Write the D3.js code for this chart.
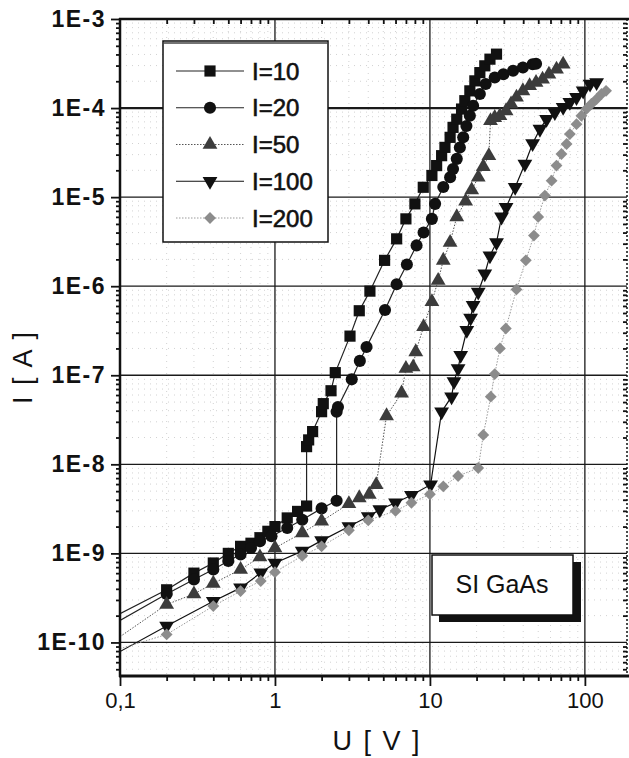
<!DOCTYPE html>
<html>
<head>
<meta charset="utf-8">
<script src="https://cdn.jsdelivr.net/npm/d3@7"></script>
<style>
  body { margin: 0; background: #fff; }
  svg { display: block; font-family: "Liberation Sans", Arial, sans-serif; }
</style>
</head>
<body>
<svg id="chart" width="629" height="758"></svg>
<script>
// measured curves, U in volts, I in amperes
const u10 = [0.2, 0.3, 0.4, 0.5, 0.6, 0.7, 0.8, 0.9, 1.0, 1.2, 1.4, 1.6,
  1.6, 1.65, 1.75, 2.0, 2.05, 2.3, 2.45, 3.05, 3.5, 4.1, 5.1, 6.1, 7.0, 8.0, 9.06, 10.3,
  11.05, 11.9, 12.5, 13.5, 14.1, 14.9, 16.0, 16.8, 18.1, 19.5, 21, 22.6, 24.4, 26.9];
const i10 = [3.9e-10, 6.0e-10, 7.8e-10, 1.0e-9, 1.2e-9, 1.3e-9, 1.5e-9, 1.77e-9, 2.0e-9, 2.5e-9, 2.96e-9, 3.4e-9,
  1.58e-8, 1.88e-8, 2.33e-8, 3.9e-8, 4.8e-8, 6.7e-8, 1.07e-7, 2.75e-7, 5.3e-7, 8.8e-7, 1.95e-6, 3.4e-6, 5.7e-6, 8.4e-6, 1.29e-5, 1.75e-5,
  2.26e-5, 2.92e-5, 3.62e-5, 4.69e-5, 6.07e-5, 7.5e-5, 9.75e-5, 1.21e-4, 1.56e-4, 2.02e-4, 2.5e-4, 2.98e-4, 3.54e-4, 4.03e-4];

const u20 = [0.2, 0.3, 0.4, 0.5, 0.6, 0.7, 0.8, 0.95, 1.2, 1.5, 2.0, 2.5,
  2.5, 2.55, 3.13, 3.53, 3.9, 5.13, 6.1, 7.1, 8.2, 9.1, 10.3, 10.8, 12.2, 13.5, 14.1, 14.9, 15.6, 16.4,
  17.2, 18.1, 19, 21, 22.9, 26.2, 29.8, 34.4, 39.8, 46, 48.4];
const i20 = [3.5e-10, 5.1e-10, 6.6e-10, 8.2e-10, 9.7e-10, 1.15e-9, 1.37e-9, 1.56e-9, 1.93e-9, 2.39e-9, 3.2e-9, 3.9e-9,
  3.9e-8, 4.4e-8, 9.0e-8, 1.45e-7, 2.08e-7, 5.4e-7, 1.05e-6, 1.75e-6, 2.87e-6, 4.0e-6, 5.7e-6, 8.4e-6, 1.3e-5, 1.67e-5, 2.07e-5, 2.69e-5, 3.6e-5, 4.7e-5,
  6.3e-5, 8.2e-5, 1.06e-4, 1.44e-4, 1.86e-4, 2.2e-4, 2.4e-4, 2.62e-4, 2.85e-4, 3.1e-4, 3.15e-4];

const u50 = [0.2, 0.3, 0.4, 0.6, 0.8, 1.0, 1.5, 2.0, 3.0, 3.5, 4.06, 4.5,
  5.25, 6.56, 7.0, 7.8, 8.1, 9.1, 10.3, 11.3, 12.2, 13.5, 14.9, 17, 18.6, 20.5, 22.1, 24.0,
  24.6, 26.2, 28.3, 31, 33.4, 36.2, 39.8, 44, 48.4, 53.3, 58.6, 65.6, 72.4];
const i50 = [2.67e-10, 3.5e-10, 4.6e-10, 6.6e-10, 9.1e-10, 1.15e-9, 1.7e-9, 2.3e-9, 3.6e-9, 4.2e-9, 4.6e-9, 5.9e-9,
  3.5e-8, 6.3e-8, 1.19e-7, 1.24e-7, 1.83e-7, 3.5e-7, 6.7e-7, 1.16e-6, 1.95e-6, 3.1e-6, 6.0e-6, 9.0e-6, 1.2e-5, 1.67e-5, 2.2e-5, 2.92e-5,
  7.2e-5, 7.8e-5, 8.2e-5, 9.3e-5, 1.11e-4, 1.32e-4, 1.56e-4, 1.78e-4, 1.94e-4, 2.11e-4, 2.4e-4, 2.73e-4, 3.1e-4];

const u100 = [0.2, 0.4, 0.6, 0.81, 1.0, 1.5, 2.0, 3.0, 4.0, 4.75, 6.0, 7.6, 10.1,
  11.9, 13.8, 14.3, 15.2, 15.8, 17.3, 18.3, 19, 20.5, 22.6, 24.4, 26.9, 29, 31, 35.5, 41, 46,
  51.3, 56.6, 64, 72.4, 80, 88.3, 97.5, 108, 119];
const i100 = [1.53e-10, 2.9e-10, 4.1e-10, 6.05e-10, 7.8e-10, 1.06e-9, 1.39e-9, 2.0e-9, 2.6e-9, 3.1e-9, 3.7e-9, 4.5e-9, 5.9e-9,
  3.9e-8, 5.75e-8, 8.5e-8, 1.19e-7, 1.68e-7, 3.2e-7, 4.4e-7, 6.1e-7, 8.6e-7, 1.38e-6, 2.2e-6, 3.1e-6, 6.0e-6, 7.7e-6, 1.29e-5, 2.36e-5, 4.0e-5,
  5.8e-5, 7.5e-5, 8.9e-5, 1.02e-4, 1.16e-4, 1.32e-4, 1.56e-4, 1.86e-4, 1.94e-4];

const u200 = [0.2, 0.4, 0.6, 0.81, 1.0, 1.5, 2.0, 3.0, 4.0, 6.0, 7.6, 10.0, 12.2, 15.2, 20.5,
  22.1, 24.7, 26.2, 28.3, 30.9, 36.2, 41.6, 46.9, 50, 55.2, 61, 65.6, 70.6, 76.2, 80,
  88.3, 95, 102.5, 110, 119, 128, 137];
const i200 = [1.23e-10, 2.56e-10, 3.77e-10, 4.9e-10, 6.15e-10, 9.4e-10, 1.2e-9, 1.82e-9, 2.35e-9, 3.0e-9, 3.7e-9, 4.6e-9, 5.65e-9, 7.4e-9, 9.1e-9,
  2.14e-8, 5.75e-8, 1.03e-7, 2.0e-7, 3.35e-7, 9.2e-7, 1.95e-6, 3.7e-6, 6.0e-6, 1.04e-5, 1.53e-5, 2.26e-5, 3.05e-5, 3.95e-5, 5.1e-5,
  6.6e-5, 8.2e-5, 9.8e-5, 1.11e-4, 1.26e-4, 1.44e-4, 1.56e-4];

// the drawn lines run on to the left axis at U = 0,1 (no marker there)
const startU = 0.1;
const startI = [2.1e-10, 1.77e-10, 1.16e-10, 7.9e-11, 8.5e-11];

const seriesNames = ["l=10", "l=20", "l=50", "l=100", "l=200"];
const legendLabels = ["I=10", "I=20", "I=50", "I=100", "I=200"];

const xTickValues = [0.1, 1, 10, 100];
const xTickLabels = ["0,1", "1", "10", "100"];
const yTickValues = [1e-3, 1e-4, 1e-5, 1e-6, 1e-7, 1e-8, 1e-9, 1e-10];
const yTickLabels = ["1E-3", "1E-4", "1E-5", "1E-6", "1E-7", "1E-8", "1E-9", "1E-10"];

const styles = [
  { symbol: d3.symbolSquare, size: 125, rotate: 0, fill: "#111", line: "#222", width: 1.2, dash: null },
  { symbol: d3.symbolCircle, size: 115, rotate: 0, fill: "#111", line: "#222", width: 1.2, dash: null },
  { symbol: d3.symbolTriangle, size: 95, rotate: 0, fill: "#3c3c3c", line: "#555", width: 1, dash: "1.5,1.5" },
  { symbol: d3.symbolTriangle, size: 95, rotate: 180, fill: "#111", line: "#111", width: 1.2, dash: null },
  { symbol: d3.symbolSquare, size: 70, rotate: 45, fill: "#8c8c8c", line: "#9a9a9a", width: 1, dash: "1.5,1.5" },
];

const uValues = [u10, u20, u50, u100, u200];
const iValues = [i10, i20, i50, i100, i200];
const series = seriesNames.map((name, k) => ({
  name,
  points: uValues[k].map((u, j) => ({ u, i: iValues[k][j] })),
  start: { u: startU, i: startI[k] },
  style: styles[k],
}));

const svg = d3.select("#chart");
const plotLeft = 120, plotRight = 627, plotTop = 19, plotBottom = 676;

const x = d3.scaleLog().domain([0.1, 187]).range([plotLeft, plotRight]);
const y = d3.scaleLog().domain([4.2e-11, 1e-3]).range([plotBottom, plotTop]);

function minorValues(decades, lo, hi) {
  const out = [];
  decades.forEach((d) => {
    for (let k = 2; k <= 9; k++) {
      const v = k * d;
      if (v > lo && v < hi) out.push(v);
    }
  });
  return out;
}
const xMinor = minorValues([0.1, 1, 10, 100], 0.1, 187);
const yMinor = minorValues([1e-11, 1e-10, 1e-9, 1e-8, 1e-7, 1e-6, 1e-5, 1e-4], 4.2e-11, 1e-3);

svg.append("defs").append("clipPath").attr("id", "plotClip")
  .append("rect").attr("x", plotLeft).attr("y", plotTop)
  .attr("width", plotRight - plotLeft).attr("height", plotBottom - plotTop);

// minor dotted grid
const grid = svg.append("g");
grid.append("g").selectAll("line").data(xMinor).join("line")
  .attr("x1", (d) => x(d)).attr("x2", (d) => x(d)).attr("y1", plotTop).attr("y2", plotBottom)
  .attr("stroke", "#d2d2d2").attr("stroke-width", 1).attr("stroke-dasharray", "1,5");
grid.append("g").selectAll("line").data(yMinor).join("line")
  .attr("y1", (d) => y(d)).attr("y2", (d) => y(d)).attr("x1", plotLeft).attr("x2", plotRight)
  .attr("stroke", "#d2d2d2").attr("stroke-width", 1).attr("stroke-dasharray", "1,5");

// major solid grid
grid.append("g").selectAll("line").data(xTickValues.slice(1)).join("line")
  .attr("x1", (d) => x(d)).attr("x2", (d) => x(d)).attr("y1", plotTop).attr("y2", plotBottom)
  .attr("stroke", "#1a1a1a").attr("stroke-width", 1.3);
grid.append("g").selectAll("line").data(yTickValues.slice(1)).join("line")
  .attr("y1", (d) => y(d)).attr("y2", (d) => y(d)).attr("x1", plotLeft).attr("x2", plotRight)
  .attr("stroke", "#1a1a1a").attr("stroke-width", (d) => (d === 1e-4 ? 2.2 : 1.3));

// curves
const plot = svg.append("g").attr("clip-path", "url(#plotClip)");
const line = d3.line().x((d) => x(d.u)).y((d) => y(d.i));

series.forEach((s) => {
  plot.append("path")
    .datum([s.start, ...s.points])
    .attr("d", line)
    .attr("fill", "none")
    .attr("stroke", s.style.line)
    .attr("stroke-width", s.style.width)
    .attr("stroke-dasharray", s.style.dash);
});

series.forEach((s) => {
  const sym = d3.symbol().type(s.style.symbol).size(s.style.size);
  plot.append("g").selectAll("path")
    .data(s.points)
    .join("path")
    .attr("d", sym)
    .attr("transform", (d) => `translate(${x(d.u)},${y(d.i)}) rotate(${s.style.rotate})`)
    .attr("fill", s.style.fill);
});

// axes
const axisG = svg.append("g");
axisG.append("g").attr("transform", `translate(0,${plotBottom})`)
  .call(d3.axisBottom(x).tickValues(xMinor).tickSize(5).tickFormat(""));
axisG.append("g").attr("transform", `translate(0,${plotBottom})`)
  .call(d3.axisBottom(x).tickValues(xTickValues).tickSize(10)
    .tickFormat((d, k) => xTickLabels[k]).tickPadding(6))
  .call((g) => g.selectAll("text").attr("font-size", 22).attr("fill", "#111"));

axisG.append("g").attr("transform", `translate(${plotLeft},0)`)
  .call(d3.axisLeft(y).tickValues(yMinor).tickSize(4).tickFormat(""));
axisG.append("g").attr("transform", `translate(${plotLeft},0)`)
  .call(d3.axisLeft(y).tickValues(yTickValues).tickSize(9)
    .tickFormat((d, k) => yTickLabels[k]).tickPadding(5))
  .call((g) => g.selectAll("text").attr("font-size", 23).attr("font-weight", "bold")
    .attr("letter-spacing", 1.5).attr("fill", "#111"));

axisG.append("g").attr("transform", `translate(0,${plotTop})`)
  .call(d3.axisBottom(x).tickValues(xMinor).tickSize(5).tickFormat(""));
axisG.append("g").attr("transform", `translate(${plotRight},0)`)
  .call(d3.axisLeft(y).tickValues(yMinor).tickSize(4).tickFormat(""));

axisG.selectAll(".domain").remove();
axisG.selectAll(".tick line").attr("stroke", "#111").attr("stroke-width", 1.8);

// frame
svg.append("line").attr("x1", plotLeft).attr("x2", plotLeft)
  .attr("y1", plotTop - 1).attr("y2", plotBottom + 1)
  .attr("stroke", "#111").attr("stroke-width", 2.5);
svg.append("line").attr("x1", plotLeft - 1).attr("x2", plotRight + 2)
  .attr("y1", plotBottom).attr("y2", plotBottom)
  .attr("stroke", "#111").attr("stroke-width", 3);
svg.append("line").attr("x1", plotLeft - 1).attr("x2", plotRight + 2)
  .attr("y1", plotTop).attr("y2", plotTop)
  .attr("stroke", "#111").attr("stroke-width", 2.5);
svg.append("line").attr("x1", plotRight).attr("x2", plotRight)
  .attr("y1", plotTop).attr("y2", plotBottom)
  .attr("stroke", "#111").attr("stroke-width", 1.5).attr("stroke-dasharray", "2,2");

// axis titles
svg.append("text").attr("x", 376).attr("y", 750).attr("text-anchor", "middle")
  .attr("font-size", 27).attr("fill", "#111").attr("word-spacing", 4)
  .attr("xml:space", "preserve").text("U [ V ]");
svg.append("text").attr("transform", "translate(32,368) rotate(-90)").attr("text-anchor", "middle")
  .attr("font-size", 27).attr("fill", "#111").attr("word-spacing", 4)
  .attr("xml:space", "preserve").text("I [ A ]");

// legend
const legend = svg.append("g");
legend.append("rect").attr("x", 163).attr("y", 41).attr("width", 165).attr("height", 201)
  .attr("fill", "#fff").attr("stroke", "#111").attr("stroke-width", 1.5);
legend.append("line").attr("x1", 163).attr("x2", 328).attr("y1", 43).attr("y2", 43)
  .attr("stroke", "#444").attr("stroke-width", 1.5);
const legendY = d3.scalePoint().domain(seriesNames).range([71, 218]);
series.forEach((s, k) => {
  const ly = legendY(s.name);
  legend.append("line").attr("x1", 176).attr("x2", 244).attr("y1", ly).attr("y2", ly)
    .attr("stroke", s.style.line).attr("stroke-width", s.style.width)
    .attr("stroke-dasharray", s.style.dash);
  legend.append("path").attr("d", d3.symbol().type(s.style.symbol).size(s.style.size)())
    .attr("transform", `translate(210,${ly}) rotate(${s.style.rotate})`).attr("fill", s.style.fill);
  legend.append("text").attr("x", 252).attr("y", ly + 8.5).attr("font-size", 24)
    .attr("fill", "#111").attr("stroke", "#111").attr("stroke-width", 0.6).text(legendLabels[k]);
});

// sample label box with drop shadow
const tag = svg.append("g");
tag.append("rect").attr("x", 439).attr("y", 562).attr("width", 142).attr("height", 60).attr("fill", "#111");
tag.append("rect").attr("x", 432).attr("y", 555).attr("width", 141).attr("height", 60)
  .attr("fill", "#fff").attr("stroke", "#111").attr("stroke-width", 1.5);
tag.append("text").attr("x", 502).attr("y", 593).attr("text-anchor", "middle")
  .attr("font-size", 25).attr("fill", "#111").text("SI GaAs");
</script>
</body>
</html>
